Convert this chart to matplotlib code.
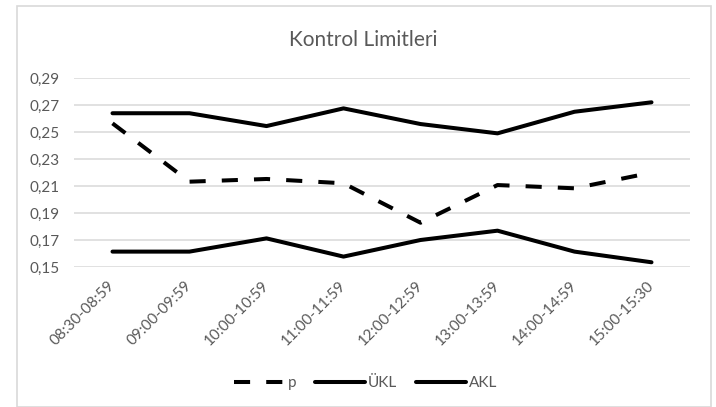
import matplotlib.pyplot as plt
from matplotlib.patches import Rectangle
from matplotlib.ticker import FuncFormatter

plt.rcParams['font.family'] = ['Lato', 'DejaVu Sans']

saatler = ['08:30-08:59', '09:00-09:59', '10:00-10:59', '11:00-11:59',
           '12:00-12:59', '13:00-13:59', '14:00-14:59', '15:00-15:30']
p = [0.2564, 0.2132, 0.2152, 0.2120, 0.1828, 0.2107, 0.2083, 0.2199]
ukl = [0.2639, 0.2639, 0.2544, 0.2675, 0.2559, 0.2490, 0.2650, 0.2720]
akl = [0.1614, 0.1614, 0.1712, 0.1577, 0.1700, 0.1769, 0.1614, 0.1535]
y_ticks = [0.15, 0.17, 0.19, 0.21, 0.23, 0.25, 0.27, 0.29]

gri = '#595959'
W, H = 716, 407

fig = plt.figure(figsize=(W / 100, H / 100), dpi=100)
ax = fig.add_axes([74 / W, 1 - 267 / H, (690 - 74) / W, (267 - 78) / H])

# chart frame
fig.patches.append(Rectangle((16.5 / W, 0), (711 - 16.5) / W, 1 - 6 / H,
                             transform=fig.transFigure, fill=False,
                             edgecolor='#d9d9d9', lw=1.2))

x = range(len(saatler))
ax.plot(x, p, color='black', lw=2.9, dashes=(4, 4), label='p')
ax.plot(x, ukl, color='black', lw=2.9, solid_capstyle='round', label='ÜKL')
ax.plot(x, akl, color='black', lw=2.9, solid_capstyle='round', label='AKL')

ax.set_xlim(-0.5, len(saatler) - 0.5)
ax.set_ylim(0.15, 0.29)
ax.set_yticks(y_ticks)
ax.yaxis.set_major_formatter(FuncFormatter(lambda v, _: f'{v:.2f}'.replace('.', ',')))
ax.set_xticks(list(x))
ax.set_xticklabels(saatler, rotation=45, ha='right', va='center',
                   rotation_mode='anchor')
ax.tick_params(axis='both', length=0, labelsize=11, colors=gri)
ax.tick_params(axis='x', pad=12)
ax.tick_params(axis='y', pad=10)
ax.grid(axis='y', color='#d9d9d9', lw=1.1)
ax.set_axisbelow(True)
for s in ax.spines.values():
    s.set_visible(False)

fig.text(363 / W, 1 - 40 / H, 'Kontrol Limitleri', ha='center', va='center',
         fontsize=15, color=gri)

fig.legend(loc='center', bbox_to_anchor=(366 / W, 1 - 383 / H), ncol=3,
           frameon=False, fontsize=11, labelcolor=gri, handlelength=3.3,
           handletextpad=0.2, columnspacing=1.2)

fig.savefig('out.png', dpi=100)
